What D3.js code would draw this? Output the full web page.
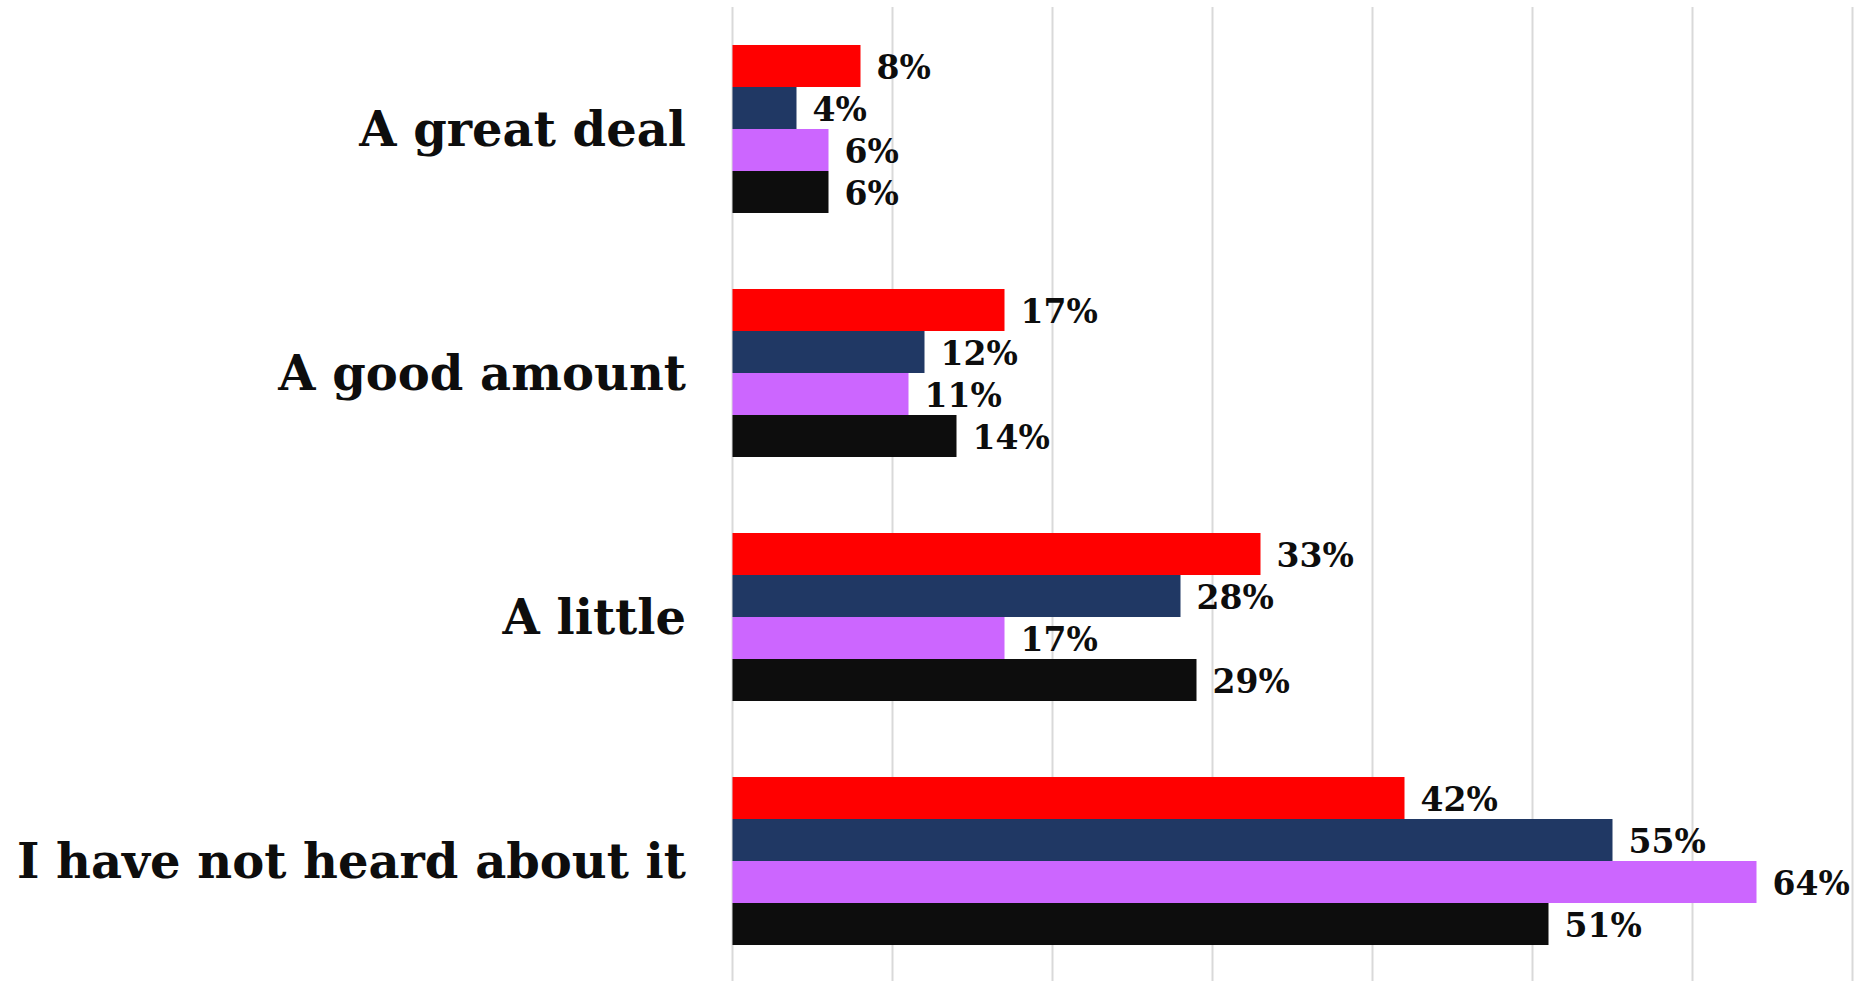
<!DOCTYPE html>
<html>
<head>
<meta charset="utf-8">
<script src="https://cdn.jsdelivr.net/npm/d3@7"></script>
<style>
  html, body { margin: 0; padding: 0; background: #ffffff; }
  svg { display: block; }
</style>
</head>
<body>
<svg id="chart" width="1866" height="981"></svg>
<script>
// ---- Data ----
const categories = ["A great deal", "A good amount", "A little", "I have not heard about it"];
const seriesNames = ["Series 1", "Series 2", "Series 3", "Series 4"];
const series1 = [8, 17, 33, 42];
const series2 = [4, 12, 28, 55];
const series3 = [6, 11, 17, 64];
const series4 = [6, 14, 29, 51];
const tickValues = [0, 10, 20, 30, 40, 50, 60, 70];

// ---- Styles ----
const colors = ["#FF0000", "#203864", "#CC66FF", "#0D0D0D"];
const allSeries = [series1, series2, series3, series4];

const svg = d3.select("#chart");
const W = 1866, H = 981;

const x = d3.scaleLinear().domain([0, 70]).range([732.5, 1852.5]);
const y = d3.scaleBand().domain(categories).range([7, 983]).paddingInner(0.3115).paddingOuter(0.1557);
const ySub = d3.scaleBand().domain(seriesNames).range([0, y.bandwidth()]);

// gridlines
svg.append("g").selectAll("line").data(tickValues).join("line")
  .attr("x1", d => x(d)).attr("x2", d => x(d))
  .attr("y1", 7).attr("y2", H)
  .attr("stroke", "#D9D9D9").attr("stroke-width", 2);

const rows = [];
categories.forEach((c, ci) => {
  allSeries.forEach((s, si) => rows.push({cat: c, name: seriesNames[si], value: s[ci], color: colors[si]}));
});

// bars
svg.append("g").selectAll("rect").data(rows).join("rect")
  .attr("x", x(0))
  .attr("y", d => y(d.cat) + ySub(d.name))
  .attr("width", d => x(d.value) - x(0))
  .attr("height", ySub.bandwidth())
  .attr("fill", d => d.color);

// value labels
svg.append("g").selectAll("text").data(rows).join("text")
  .attr("x", d => x(d.value) + 16)
  .attr("y", d => y(d.cat) + ySub(d.name) + ySub.bandwidth() / 2)
  .attr("dy", "0.38em")
  .attr("font-family", "'DejaVu Serif', serif")
  .attr("font-weight", "bold")
  .attr("font-size", 33)
  .attr("fill", "#0D0D0D")
  .text(d => d.value + "%");

// category labels
svg.append("g").selectAll("text").data(categories).join("text")
  .attr("x", 686)
  .attr("y", d => y(d) + y.bandwidth() / 2)
  .attr("dy", "0.35em")
  .attr("text-anchor", "end")
  .attr("font-family", "'DejaVu Serif', serif")
  .attr("font-weight", "bold")
  .attr("font-size", 48)
  .attr("fill", "#0D0D0D")
  .text(d => d);
</script>
</body>
</html>
